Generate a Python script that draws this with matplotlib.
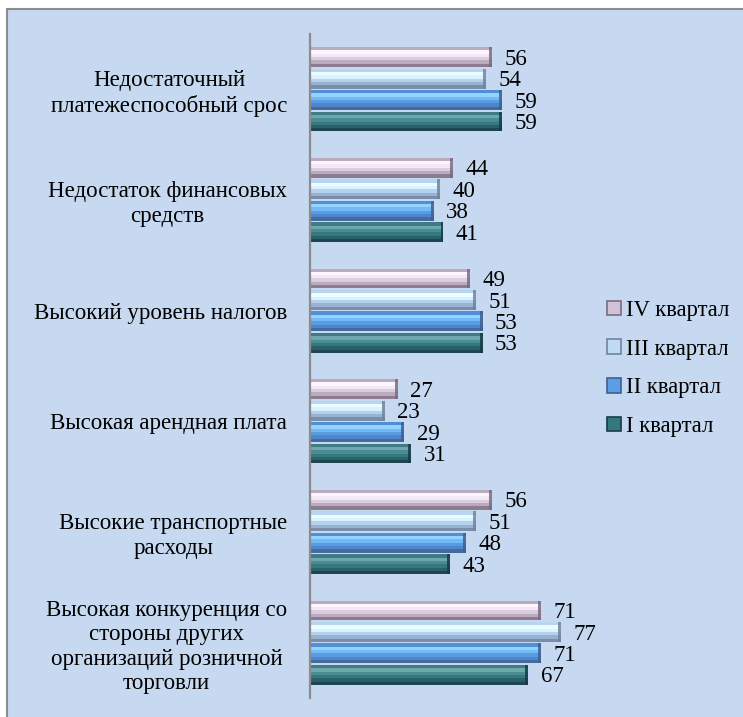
import numpy as np
import matplotlib
matplotlib.use("Agg")
import matplotlib.pyplot as plt
from matplotlib.patches import Rectangle, Patch

plt.rcParams["font.family"] = ["Liberation Serif", "DejaVu Serif"]

categories = [
    "Недостаточный\nплатежеспособный срос",
    "Недостаток финансовых\nсредств",
    "Высокий уровень налогов",
    "Высокая арендная плата",
    "Высокие транспортные\nрасходы",
    "Высокая конкуренция со\nстороны других\nорганизаций розничной\nторговли",
]
series_names = ["IV квартал", "III квартал", "II квартал", "I квартал"]
q4 = [56, 44, 49, 27, 56, 71]
q3 = [54, 40, 51, 23, 51, 77]
q2 = [59, 38, 53, 29, 48, 71]
q1 = [59, 41, 53, 31, 43, 67]
series_values = [q4, q3, q2, q1]

# band colours top -> bottom, imitating the bevelled Excel bars
bands = [
    ["#bcaabf", "#fdf6ff", "#f3e8f6", "#dccce0", "#bcabbf", "#8c7c90"],
    ["#b8d4ee", "#eafcff", "#d8f3ff", "#b4d2ee", "#98b2d2", "#7a8eab"],
    ["#4f8fd8", "#92d4ff", "#72baf5", "#5a9ce2", "#4e86cc", "#466a9e"],
    ["#3e7c84", "#6ea8ae", "#4a8c94", "#357880", "#2a6068", "#1e4650"],
]
caps = ["#7a6b7e", "#6f849e", "#3f5f92", "#173c44"]
legend_face = ["#d2c2d6", "#c0dcf2", "#5c9ee4", "#367880"]

fig = plt.figure(figsize=(7.43, 7.17), dpi=100)
fig.patch.set_facecolor("white")
fig.patches.append(Rectangle((7 / 743, -0.1), 1.2, 1.1 - 9 / 717,
                             transform=fig.transFigure, facecolor="#c6d9f0",
                             edgecolor="#8c8c8c", linewidth=1.5, zorder=-5))

ax = fig.add_axes([310 / 743, 1 - 698 / 717, 293 / 743, 664 / 717])
ax.set_facecolor("none")

y = np.arange(len(categories))
pitch = 0.194
h = 0.18
nb = len(bands[0])
for i, vals in enumerate(series_values):
    yc = y + (i - 1.5) * pitch
    vals = np.array(vals)
    for k, col in enumerate(bands[i]):
        ax.barh(yc - h / 2 + (k + 0.5) * h / nb, vals, height=h / nb,
                color=col, linewidth=0)
    ax.barh(yc, np.full(len(vals), 0.9), left=vals - 0.9, height=h,
            color=caps[i], linewidth=0, alpha=0.85)
    for v, yy in zip(vals, yc):
        ax.annotate(str(v), (v, yy), xytext=(9, -1.5), textcoords="offset points",
                    va="center", ha="left", fontsize=16.5, color="black")

ax.set_xlim(0, 90)
ax.set_ylim(len(categories) - 0.5, -0.5)
ax.set_yticks(y)
ax.set_yticklabels(categories, fontsize=16.5, ha="right", multialignment="center",
                   linespacing=1.22)
ax.tick_params(axis="y", length=0, pad=16.5)
ax.set_xticks([])
for s in ["top", "right", "bottom"]:
    ax.spines[s].set_visible(False)
ax.spines["left"].set_color("#8c8c8c")
ax.spines["left"].set_linewidth(1.6)

handles = [Patch(facecolor=legend_face[i], edgecolor=caps[i], linewidth=1.2)
           for i in range(4)]
fig.legend(handles, series_names, loc="center left",
           bbox_to_anchor=(607 / 743, 1 - 368.5 / 717), frameon=False,
           fontsize=16.3, borderpad=0, borderaxespad=0, handlelength=0.62,
           handleheight=0.62, handletextpad=0.2, labelspacing=0.78)

fig.savefig("out.png", dpi=100)
